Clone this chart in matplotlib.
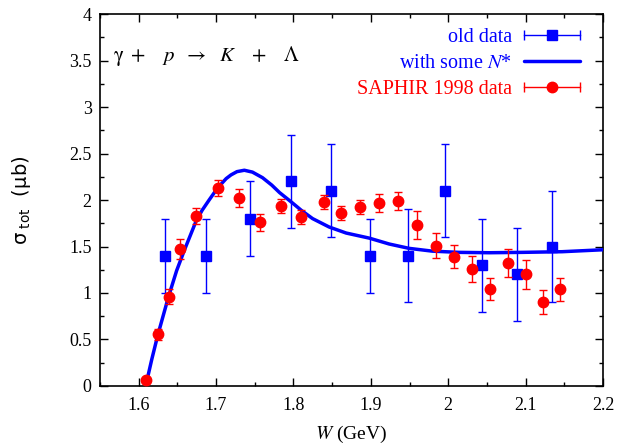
import numpy as np
import matplotlib
matplotlib.use('Agg')
import matplotlib.pyplot as plt
from matplotlib.lines import Line2D
from matplotlib.legend_handler import HandlerBase
from matplotlib.ticker import MultipleLocator

plt.rcParams['font.family'] = 'Liberation Serif'
plt.rcParams['mathtext.fontset'] = 'stix'

# old world data
w_old = [1.634, 1.6875, 1.744, 1.797, 1.849, 1.899, 1.9486, 1.9957, 2.043, 2.089, 2.134]
sig_old = [1.4, 1.4, 1.8, 2.2, 2.1, 1.4, 1.4, 2.1, 1.3, 1.2, 1.5]
err_old = [0.4, 0.4, 0.4, 0.5, 0.5, 0.4, 0.5, 0.5, 0.5, 0.5, 0.6]

# SAPHIR 1998
w_saphir = [1.6096, 1.625, 1.639, 1.653, 1.674, 1.702, 1.730, 1.757, 1.784, 1.810, 1.840, 1.861,
            1.886, 1.911, 1.935, 1.960, 1.9836, 2.0074, 2.031, 2.054, 2.0776, 2.100, 2.123, 2.145]
sig_saphir = [0.065, 0.556, 0.96, 1.47, 1.83, 2.13, 2.02, 1.76, 1.935, 1.82, 1.98, 1.86,
              1.925, 1.97, 1.99, 1.73, 1.51, 1.39, 1.26, 1.04, 1.32, 1.20, 0.90, 1.04]
err_saphir = [0.02, 0.059, 0.082, 0.108, 0.084, 0.09, 0.095, 0.088, 0.08, 0.075, 0.077, 0.08,
              0.08, 0.097, 0.10, 0.147, 0.136, 0.124, 0.138, 0.12, 0.15, 0.152, 0.127, 0.125]

# model curve with N* resonances
w_model = [1.609, 1.617, 1.6247, 1.6385, 1.649, 1.659, 1.674, 1.682, 1.691, 1.702, 1.713, 1.7193,
           1.727, 1.7365, 1.747, 1.760, 1.772, 1.782, 1.797, 1.810, 1.8247, 1.846, 1.868,
           1.898, 1.9236, 1.9494, 1.9795, 2.014, 2.0527, 2.0957, 2.147, 2.2]
sig_model = [0.0, 0.29, 0.548, 0.96, 1.24, 1.46, 1.77, 1.89, 2.00, 2.13, 2.23, 2.27,
             2.305, 2.32, 2.30, 2.24, 2.16, 2.08, 1.98, 1.89, 1.80, 1.71, 1.645,
             1.59, 1.527, 1.48, 1.45, 1.437, 1.433, 1.437, 1.444, 1.465]


class ErrHandler(HandlerBase):
    # gnuplot style key: horizontal bar with end caps and a marker in the middle
    def __init__(self, marker, color, ms):
        HandlerBase.__init__(self)
        self.marker = marker
        self.color = color
        self.ms = ms

    def create_artists(self, legend, orig_handle, xdescent, ydescent, width, height, fontsize, trans):
        y = height / 2. - ydescent
        x0, x1 = -xdescent, width - xdescent
        bar = Line2D([x0, x1], [y, y], color=self.color, lw=1)
        caps = Line2D([x0, x1], [y, y], ls='none', marker='|', ms=7, mew=1, color=self.color)
        mk = Line2D([(x0 + x1) / 2.], [y], ls='none', marker=self.marker, ms=self.ms, color=self.color)
        for a in (bar, caps, mk):
            a.set_transform(trans)
        return [bar, caps, mk]


fig = plt.figure(figsize=(6.2, 4.45), dpi=100)
ax = fig.add_axes([0.1613, 0.1326, 0.8113, 0.8359])

h_old = ax.errorbar(w_old, sig_old, yerr=err_old, fmt='s', color='#0000ff', ms=7.5,
                    elinewidth=1, capsize=3, capthick=1, zorder=3)
h_mod, = ax.plot(w_model, sig_model, '-', color='#0000ff', lw=2.5, zorder=4,
                 solid_joinstyle='round', solid_capstyle='round')
h_sap = ax.errorbar(w_saphir, sig_saphir, yerr=err_saphir, fmt='o', color='#ff0000', ms=7.5,
                    elinewidth=1, capsize=3, capthick=1, zorder=5)

ax.set_xlim([1.55, 2.2])
ax.set_ylim([0, 4])
ax.xaxis.set_minor_locator(MultipleLocator(0.05))
ax.yaxis.set_minor_locator(MultipleLocator(0.25))
ax.set_xticks([1.6, 1.7, 1.8, 1.9, 2.0, 2.1, 2.2])
ax.set_xticklabels(['1.6', '1.7', '1.8', '1.9', '2', '2.1', '2.2'])
ax.set_yticks([0, 0.5, 1, 1.5, 2, 2.5, 3, 3.5, 4])
ax.set_yticklabels(['0', '0.5', '1', '1.5', '2', '2.5', '3', '3.5', '4'])
ax.tick_params(which='both', direction='in', top=True, right=True, labelsize=13, width=1)
ax.tick_params(which='major', length=6, pad=6)
ax.tick_params(axis='x', which='major', pad=8)
ax.tick_params(which='minor', length=3)
for s in ax.spines.values():
    s.set_linewidth(1.2)

ax.set_xlabel(r'$W$ (GeV)', fontsize=14, labelpad=7)
ax.set_ylabel(r'$\mathrm{\sigma}_{\rm\ tot}$  (μb)', fontsize=14, family='DejaVu Sans',
              math_fontfamily='dejavusans', labelpad=26)

ax.text(0.026, 0.888, r'$\mathrm{\gamma}\ +\quad p\ \ \rightarrow\ \ K\quad +\quad \Lambda$',
        transform=ax.transAxes, fontsize=15, va='center', ha='left')

lgnd = ax.legend([h_old, h_mod, h_sap], ['old data', r'with some $N$*', 'SAPHIR 1998 data'],
                 handler_map={h_old: ErrHandler('s', '#0000ff', 7.5),
                              h_sap: ErrHandler('o', '#ff0000', 7.5)},
                 loc='upper right', bbox_to_anchor=(0.970, 0.983), frameon=False, markerfirst=False,
                 fontsize=14.5, handlelength=2.78, handletextpad=0.6, labelspacing=0.33,
                 borderaxespad=0.)
for t, c in zip(lgnd.get_texts(), ['#0000ff', '#0000ff', '#ff0000']):
    t.set_color(c)

fig.savefig('out.png', dpi=100)
plt.close(fig)
